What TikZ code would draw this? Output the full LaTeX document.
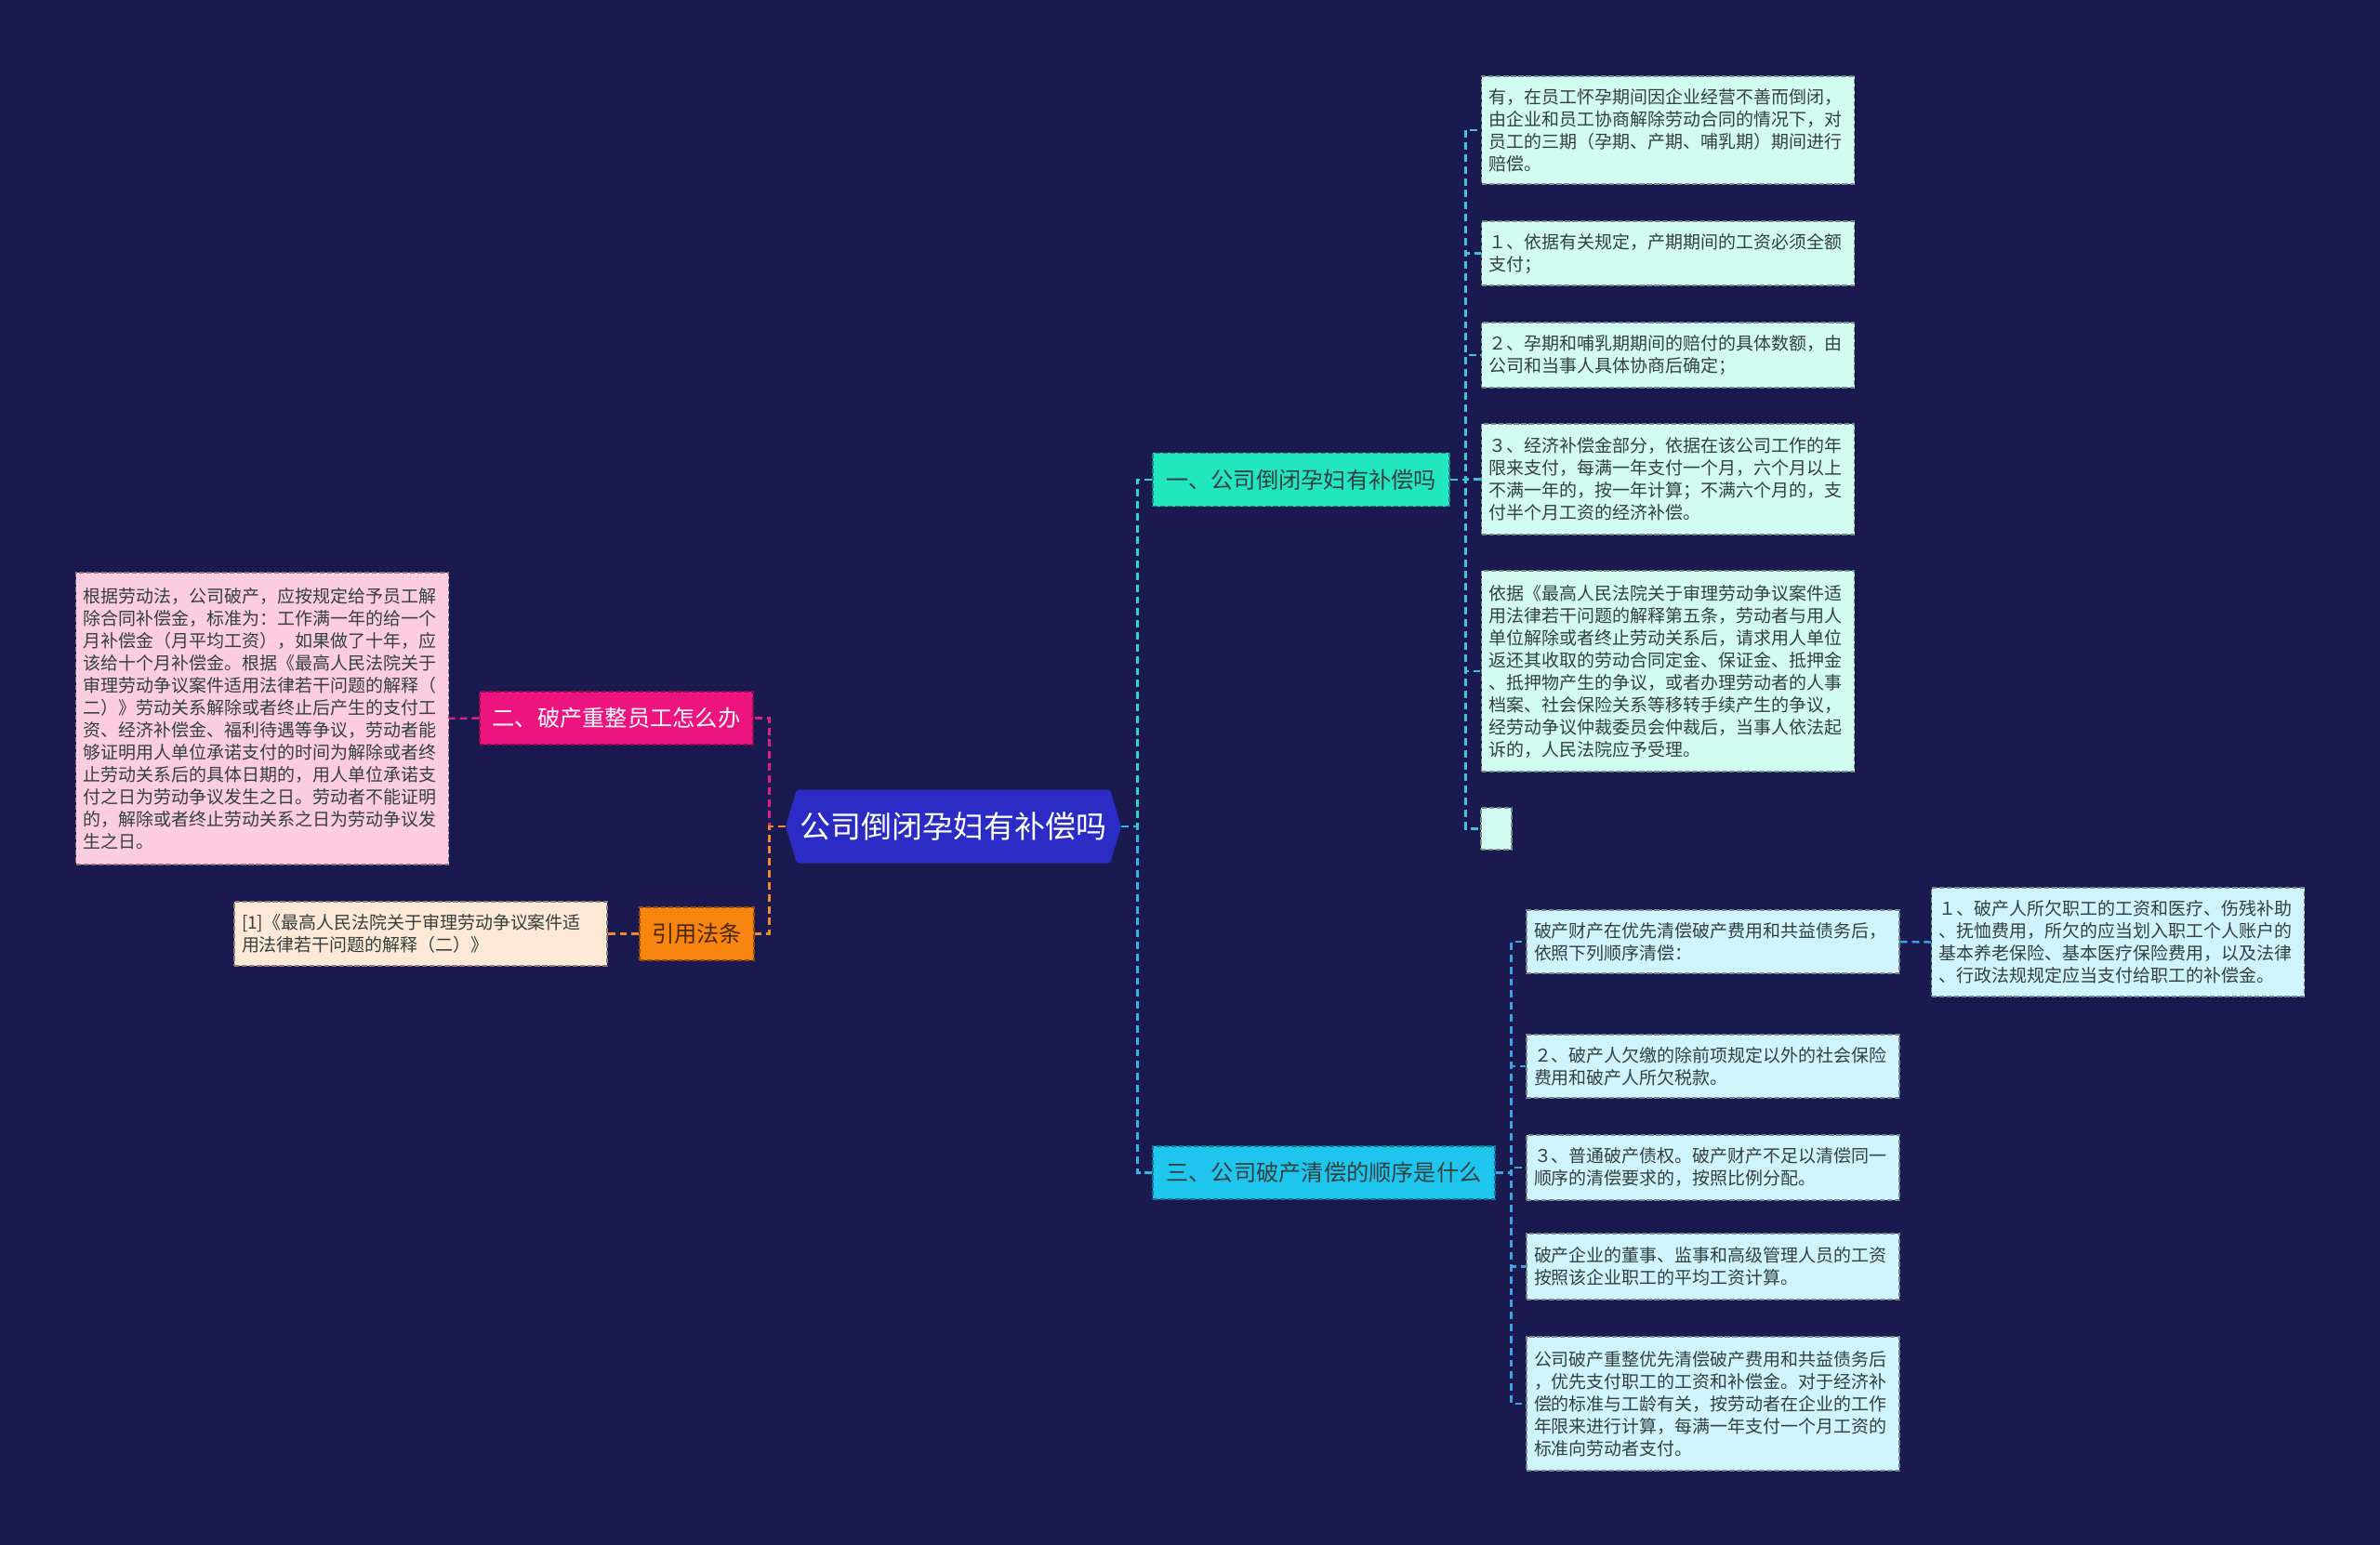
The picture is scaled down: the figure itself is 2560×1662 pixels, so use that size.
\documentclass[tikz,border=0pt]{standalone}
\usepackage{fontspec}
\setmainfont{Noto Sans CJK SC}

\definecolor{bgnavy}{HTML}{1B1A50}
\definecolor{rootblue}{HTML}{2B2BC6}
\definecolor{mint}{HTML}{22E6C0}
\definecolor{sky}{HTML}{1EC6EE}
\definecolor{rose}{HTML}{EE1480}
\definecolor{amber}{HTML}{F7850F}
\definecolor{mintleaf}{HTML}{D2FCF2}
\definecolor{skyleaf}{HTML}{D0F4FC}
\definecolor{roseleaf}{HTML}{FCCDE0}
\definecolor{amberleaf}{HTML}{FEE9D6}
\definecolor{mintline}{HTML}{2ED6C6}
\definecolor{mintleafline}{HTML}{3CC4D8}
\definecolor{skyline}{HTML}{2AB8E6}
\definecolor{skyleafline}{HTML}{3AA6E0}
\definecolor{roseline}{HTML}{E0207E}
\definecolor{amberline}{HTML}{F08A2A}
\definecolor{leaftext}{HTML}{33403F}

\newlength\pxunit
\setlength\pxunit{0.02cm}
\newcommand\leaffont{\fontsize{10.8}{13.66}\selectfont}
\newcommand\branchfont{\fontsize{13.8}{16}\selectfont}
\newcommand\rootfont{\fontsize{18.8}{22}\selectfont}

\tikzset{
  leaf/.style={rectangle, draw=#1!55!black, fill=#1, line width=0.8pt,
    dash pattern=on 3pt off 1.6pt, align=left, text=leaftext,
    inner xsep=8\pxunit, inner ysep=0pt, text width=385\pxunit, font=\leaffont},
  branch/.style={rectangle, draw=#1!60!black, fill=#1, line width=0.8pt,
    dash pattern=on 3pt off 1.6pt, inner sep=0pt,
    minimum height=57\pxunit, font=\branchfont},
  link/.style={draw, line width=1.4pt, dash pattern=on 4.5pt off 2.8pt},
  stubr/.style={to path={-- ++(17,0) |- (\tikztotarget)}},
  stubl/.style={to path={-- ++(-17,0) |- (\tikztotarget)}},
}

\begin{document}
\begin{tikzpicture}[x=0.02cm, y=-0.02cm]

  \fill[bgnavy] (0,0) rectangle (2560,1662);
  \useasboundingbox (0,0) rectangle (2560,1662);

  % root hexagon
  \fill[rootblue, rounded corners=1.5pt] (845,889) -- (857,849.5) -- (1194,849.5)
    -- (1206,889) -- (1194,928.5) -- (857,928.5) -- cycle;
  \node[inner sep=0pt, text=white, minimum width=361\pxunit,
    minimum height=79\pxunit, font=\rootfont] (0) at (1025.5,889) {公司倒闭孕妇有补偿吗};

  % branches
  \node[branch=mint, minimum width=319\pxunit, text=leaftext] (1) at (1399.5,516) {一、公司倒闭孕妇有补偿吗};
  \node[branch=rose, minimum width=294\pxunit, text=white] (2) at (663,772.5) {二、破产重整员工怎么办};
  \node[branch=sky, minimum width=368\pxunit, text=leaftext] (3) at (1424,1261.5) {三、公司破产清偿的顺序是什么};
  \node[branch=amber, minimum width=123\pxunit, text=amber!30!black] (4) at (749.5,1004.5) {引用法条};

  % leaves of branch 1
  \begin{scope}[every node/.style={leaf=mintleaf}]
    \node[minimum height=116\pxunit] (11) at (1794,140) {有，在员工怀孕期间因企业经营不善而倒闭，\\由企业和员工协商解除劳动合同的情况下，对\\员工的三期（孕期、产期、哺乳期）期间进行\\赔偿。};
    \node[minimum height=69\pxunit] (12) at (1794,272.5) {１、依据有关规定，产期期间的工资必须全额\\支付；};
    \node[minimum height=70\pxunit] (13) at (1794,382) {２、孕期和哺乳期期间的赔付的具体数额，由\\公司和当事人具体协商后确定；};
    \node[minimum height=119\pxunit] (14) at (1794,515.5) {３、经济补偿金部分，依据在该公司工作的年\\限来支付，每满一年支付一个月，六个月以上\\不满一年的，按一年计算；不满六个月的，支\\付半个月工资的经济补偿。};
    \node[minimum height=216\pxunit] (15) at (1794,722) {依据《最高人民法院关于审理劳动争议案件适\\用法律若干问题的解释第五条，劳动者与用人\\单位解除或者终止劳动关系后，请求用人单位\\返还其收取的劳动合同定金、保证金、抵押金\\、抵押物产生的争议，或者办理劳动者的人事\\档案、社会保险关系等移转手续产生的争议，\\经劳动争议仲裁委员会仲裁后，当事人依法起\\诉的，人民法院应予受理。};
    \node[text width=0pt, inner xsep=0pt, minimum width=33\pxunit, minimum height=45\pxunit] (16) at (1609.5,891.5) {};
  \end{scope}

  % leaves of branch 3
  \begin{scope}[every node/.style={leaf=skyleaf}]
    \node[minimum height=68\pxunit] (31) at (1842.5,1013) {破产财产在优先清偿破产费用和共益债务后，\\依照下列顺序清偿：};
    \node[minimum height=117\pxunit] (32) at (2278,1013.5) {１、破产人所欠职工的工资和医疗、伤残补助\\、抚恤费用，所欠的应当划入职工个人账户的\\基本养老保险、基本医疗保险费用，以及法律\\、行政法规规定应当支付给职工的补偿金。};
    \node[minimum height=68\pxunit] (33) at (1842.5,1147) {２、破产人欠缴的除前项规定以外的社会保险\\费用和破产人所欠税款。};
    \node[minimum height=70\pxunit] (34) at (1842.5,1256) {３、普通破产债权。破产财产不足以清偿同一\\顺序的清偿要求的，按照比例分配。};
    \node[minimum height=71\pxunit] (35) at (1842.5,1362.5) {破产企业的董事、监事和高级管理人员的工资\\按照该企业职工的平均工资计算。};
    \node[minimum height=144\pxunit] (36) at (1842.5,1510) {公司破产重整优先清偿破产费用和共益债务后\\，优先支付职工的工资和补偿金。对于经济补\\偿的标准与工龄有关，按劳动者在企业的工作\\年限来进行计算，每满一年支付一个月工资的\\标准向劳动者支付。};
  \end{scope}

  % left leaves
  \node[leaf=roseleaf, minimum height=314\pxunit] (21) at (282,773) {根据劳动法，公司破产，应按规定给予员工解\\除合同补偿金，标准为：工作满一年的给一个\\月补偿金（月平均工资），如果做了十年，应\\该给十个月补偿金。根据《最高人民法院关于\\审理劳动争议案件适用法律若干问题的解释（\\二）》劳动关系解除或者终止后产生的支付工\\资、经济补偿金、福利待遇等争议，劳动者能\\够证明用人单位承诺支付的时间为解除或者终\\止劳动关系后的具体日期的，用人单位承诺支\\付之日为劳动争议发生之日。劳动者不能证明\\的，解除或者终止劳动关系之日为劳动争议发\\生之日。};
  \node[leaf=amberleaf, minimum height=69\pxunit] (41) at (452.5,1004.5) {[1]《最高人民法院关于审理劳动争议案件适\\用法律若干问题的解释（二）》};

  % connectors
  \begin{scope}[every edge/.style={link}]
    \path (0.east) edge[stubr, mintline] (1.west);
    \path (0.east) edge[stubr, skyline] (3.west);
    \path (0.west) edge[stubl, roseline] (2.east);
    \path (0.west) edge[stubl, amberline] (4.east);

    \path (1.east) edge[stubr, mintleafline] (11.west);
    \path (1.east) edge[stubr, mintleafline] (12.west);
    \path (1.east) edge[stubr, mintleafline] (13.west);
    \path (1.east) edge[stubr, mintleafline] (14.west);
    \path (1.east) edge[stubr, mintleafline] (15.west);
    \path (1.east) edge[stubr, mintleafline] (16.west);

    \path (3.east) edge[stubr, skyleafline] (31.west);
    \path (3.east) edge[stubr, skyleafline] (33.west);
    \path (3.east) edge[stubr, skyleafline] (34.west);
    \path (3.east) edge[stubr, skyleafline] (35.west);
    \path (3.east) edge[stubr, skyleafline] (36.west);
    \path (31.east) edge[skyleafline] (32.west);

    \path (2.west) edge[roseline] (21.east);
    \path (4.west) edge[amberline] (41.east);
  \end{scope}

\end{tikzpicture}
\end{document}
